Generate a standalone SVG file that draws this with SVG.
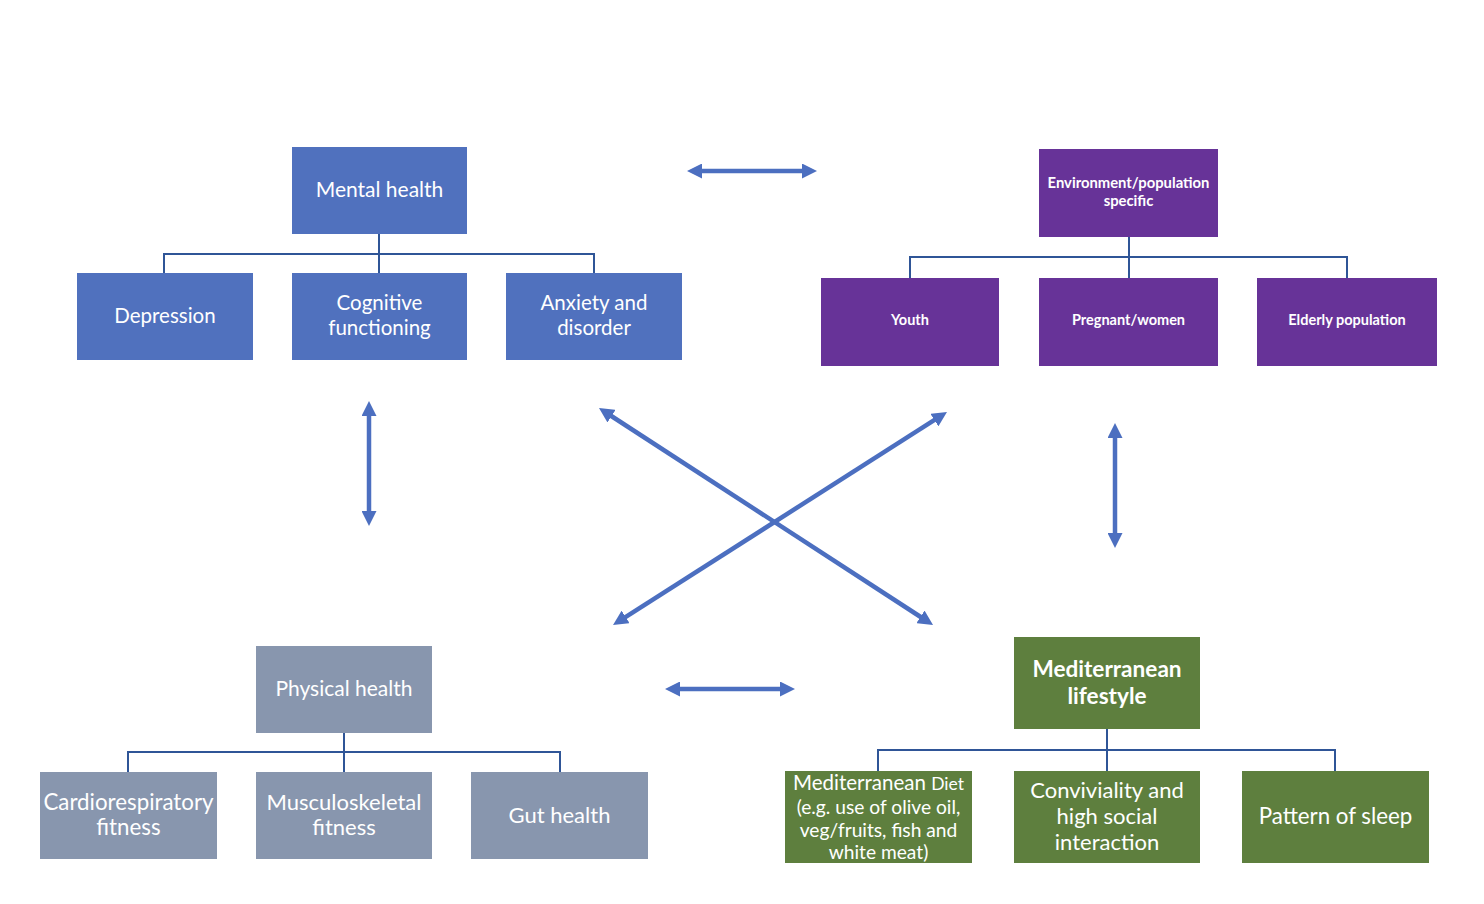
<svg xmlns="http://www.w3.org/2000/svg" width="1484" height="904" viewBox="0 0 1484 904">
<style>
.t{fill:#fff;font-family:Lato,"Open Sans","Liberation Sans",sans-serif;text-anchor:middle}
.b{font-weight:bold}
.blue{fill:#5071BE}
.purple{fill:#673398}
.grey{fill:#8896AE}
.green{fill:#5E7F3E}
.tree{fill:none;stroke:#2F5597;stroke-width:2}
.arr{fill:none;stroke:#4C6FC0;stroke-width:4.5}
</style>
<defs>
<marker id="ah" markerUnits="userSpaceOnUse" viewBox="0 0 15 15" markerWidth="15" markerHeight="15" refX="4" refY="7.5" orient="auto-start-reverse">
<path d="M0,0 L15,7.5 L0,15 z" fill="#4C6FC0"/>
</marker>
</defs>
<rect width="1484" height="904" fill="#fff"/>

<g id="connectors">
<path class="tree" d="M379,234 V254 M164,273 V254 H594 V273 M379,254 V273"/>
<path class="tree" d="M1129,237 V257 M910,278 V257 H1347 V278 M1129,257 V278"/>
<path class="tree" d="M344,733 V752 M128,772 V752 H560 V772 M344,752 V772"/>
<path class="tree" d="M1107,729 V750 M878,771 V750 H1335 V771 M1107,750 V771"/>
<line class="arr" x1="698" y1="171" x2="806" y2="171" marker-start="url(#ah)" marker-end="url(#ah)"/>
<line class="arr" x1="676" y1="689" x2="784" y2="689" marker-start="url(#ah)" marker-end="url(#ah)"/>
<line class="arr" x1="369" y1="412" x2="369" y2="515" marker-start="url(#ah)" marker-end="url(#ah)"/>
<line class="arr" x1="1115" y1="434" x2="1115" y2="537" marker-start="url(#ah)" marker-end="url(#ah)"/>
<line class="arr" x1="608.2" y1="414" x2="923.8" y2="619" marker-start="url(#ah)" marker-end="url(#ah)"/>
<line class="arr" x1="937.7" y1="417.9" x2="622.3" y2="619.1" marker-start="url(#ah)" marker-end="url(#ah)"/>
</g>

<g id="mental-health"><rect class="blue" x="292" y="147" width="175" height="87"/><text class="t" x="379.5" y="197" font-size="21">Mental health</text></g>
<g id="depression"><rect class="blue" x="77" y="273" width="176" height="87"/><text class="t" x="165" y="323" font-size="20.5">Depression</text></g>
<g id="cognitive"><rect class="blue" x="292" y="273" width="175" height="87"/><text class="t" x="379.5" y="310" font-size="20.5">Cognitive</text><text class="t" x="379.5" y="335" font-size="20.5">functioning</text></g>
<g id="anxiety"><rect class="blue" x="506" y="273" width="176" height="87"/><text class="t" x="594" y="310" font-size="20.5">Anxiety and</text><text class="t" x="594" y="335" font-size="20.5">disorder</text></g>

<g id="environment"><rect class="purple" x="1039" y="149" width="179" height="88"/><text class="t b" x="1128.5" y="188" font-size="14.8">Environment/population</text><text class="t b" x="1128.5" y="206" font-size="14.8">specific</text></g>
<g id="youth"><rect class="purple" x="821" y="278" width="178" height="88"/><text class="t b" x="910" y="325" font-size="14.5">Youth</text></g>
<g id="pregnant"><rect class="purple" x="1039" y="278" width="179" height="88"/><text class="t b" x="1128.5" y="325" font-size="14.5">Pregnant/women</text></g>
<g id="elderly"><rect class="purple" x="1257" y="278" width="180" height="88"/><text class="t b" x="1347" y="325" font-size="14.5">Elderly population</text></g>

<g id="physical-health"><rect class="grey" x="256" y="646" width="176" height="87"/><text class="t" x="344" y="696" font-size="21">Physical health</text></g>
<g id="cardio"><rect class="grey" x="40" y="772" width="177" height="87"/><text class="t" x="128.5" y="810" font-size="22.3">Cardiorespiratory</text><text class="t" x="128.5" y="835" font-size="22.3">fitness</text></g>
<g id="musculo"><rect class="grey" x="256" y="772" width="176" height="87"/><text class="t" x="344" y="810" font-size="22">Musculoskeletal</text><text class="t" x="344" y="835" font-size="22">fitness</text></g>
<g id="gut"><rect class="grey" x="471" y="772" width="177" height="87"/><text class="t" x="559.5" y="823" font-size="22">Gut health</text></g>

<g id="med-lifestyle"><rect class="green" x="1014" y="637" width="186" height="92"/><text class="t b" x="1107" y="677" font-size="22.6">Mediterranean</text><text class="t b" x="1107" y="704" font-size="22.6">lifestyle</text></g>
<g id="med-diet"><rect class="green" x="785" y="771" width="187" height="92"/><text class="t" x="878.5" y="790" font-size="20.5">Mediterranean <tspan font-size="17.5">Diet</tspan></text><text class="t" x="878.5" y="814" font-size="19.2">(e.g. use of olive oil,</text><text class="t" x="878.5" y="837" font-size="19.2">veg/fruits, fish and</text><text class="t" x="878.5" y="859" font-size="19.2">white meat)</text></g>
<g id="conviviality"><rect class="green" x="1014" y="771" width="186" height="92"/><text class="t" x="1107" y="798" font-size="22">Conviviality and</text><text class="t" x="1107" y="824" font-size="22">high social</text><text class="t" x="1107" y="850" font-size="22">interaction</text></g>
<g id="sleep"><rect class="green" x="1242" y="771" width="187" height="92"/><text class="t" x="1335.5" y="824" font-size="22.3">Pattern of sleep</text></g>
</svg>
